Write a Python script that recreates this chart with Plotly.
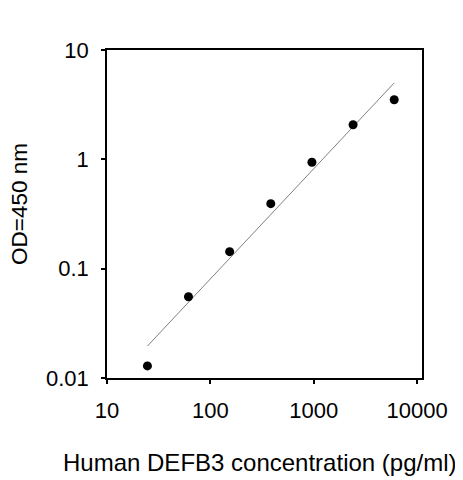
import plotly.graph_objects as go

# DEFB3 standard curve
conc = [24.6, 61.4, 153.6, 384, 960, 2400, 6000]
od450 = [0.0129, 0.0553, 0.143, 0.393, 0.94, 2.07, 3.51]

# fitted line end points
fit_conc = [24.6, 6000]
fit_od = [0.0196, 5.0]

x_ticks = [10, 100, 1000, 10000]
y_ticks = [0.01, 0.1, 1, 10]

font_name = "Liberation Sans, Arial, sans-serif"

fig = go.Figure()
fig.add_trace(go.Scatter(x=fit_conc, y=fit_od, mode='lines',
                         line=dict(color='#808080', width=1), showlegend=False))
fig.add_trace(go.Scatter(x=conc, y=od450, mode='markers',
                         marker=dict(color='black', size=9), showlegend=False))

axis_common = dict(
    type='log', showgrid=False, zeroline=False,
    showline=True, linecolor='black', linewidth=1.5, mirror=True,
    ticks='outside', ticklen=4, tickwidth=1.5, tickcolor='black',
    tickfont=dict(family=font_name, size=22, color='black'),
)

fig.update_xaxes(range=[1, 4.047], tickvals=x_ticks, ticktext=[str(v) for v in x_ticks],
                 ticklabelstandoff=8, **axis_common)
fig.update_yaxes(range=[-2, 1], tickvals=y_ticks, ticktext=[str(v) for v in y_ticks],
                 ticklabelstandoff=8, **axis_common)

# axis titles as annotations so they can sit off-centre like the original
fig.add_annotation(text='Human DEFB3 concentration (pg/ml)', xref='paper', yref='paper',
                   x=0.486, y=-0.259, xanchor='center', yanchor='middle', showarrow=False,
                   font=dict(family=font_name, size=24, color='black'))
fig.add_annotation(text='OD=450 nm', xref='paper', yref='paper', textangle=-90,
                   x=-0.28, y=0.53, xanchor='center', yanchor='middle', showarrow=False,
                   font=dict(family=font_name, size=22.5, color='black'))

# page adds ~8px body margin top/left, so the figure is drawn 8px smaller
fig.update_layout(width=455, height=472, margin=dict(l=99, r=41, t=42, b=102),
                  plot_bgcolor='white', paper_bgcolor='white')

fig.write_html("out.html")
